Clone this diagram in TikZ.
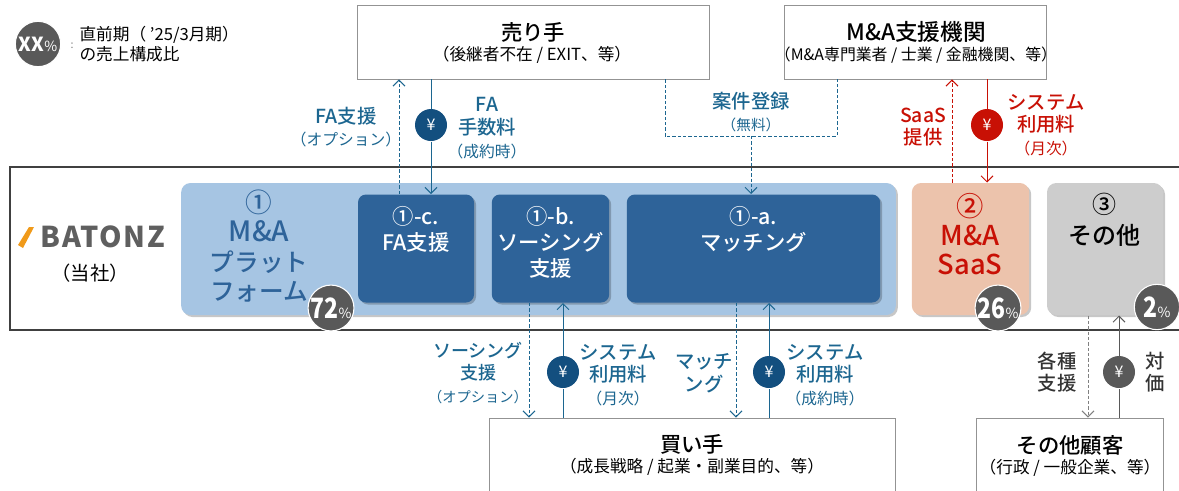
\documentclass[tikz,border=0pt]{standalone}
\usepackage{fontspec}
\setmainfont{Noto Sans CJK JP}
\newfontfamily\medfont{Noto Sans CJK JP Medium}
\usetikzlibrary{positioning, shadows, arrows.meta}

\newcommand{\subtxt}[2][11.8]{{\fontsize{#1}{12}\selectfont\normalfont #2}}
\newcommand{\pct}[3][0.82]{{\fontsize{#3}{20}\selectfont\bfseries\addfontfeature{FakeStretch=#1}#2}{\fontsize{10.5}{12}\selectfont\%}}

\begin{document}
\begin{tikzpicture}[x=0.75pt, y=-0.75pt, align=center, >={Straight Barb[length=4.5pt, width=9pt]}, line width=0.75pt,
    softshadow/.style={drop shadow={shadow xshift=1.5pt, shadow yshift=-1.5pt, fill=black, opacity=0.22}},
    partybox/.style={draw=gray!85, fill=white, line width=0.7pt, minimum height=55.5pt},
    panel/.style={rounded corners=7pt, softshadow},
    bluebox/.style={panel, fill=boxblue, minimum height=81pt, rounded corners=6pt},
    boxtext/.style={anchor=north, inner sep=0pt, font=\fontsize{16}{19.5}\selectfont\medfont, text=white},
    yen/.style={circle, minimum size=24pt, inner sep=0pt, text=white, font=\fontsize{12}{14}\selectfont},
    share/.style={circle, draw=white, line width=0.8pt, fill=sharegray, minimum size=34pt, inner sep=0pt, text=white},
    tag/.style={inner sep=0pt, font=\fontsize{14.5}{17}\selectfont\medfont},
    title/.style={inner sep=0pt, font=\fontsize{16}{18}\selectfont\medfont},
    sub/.style={inner sep=0pt, font=\fontsize{12.5}{14}\selectfont},
    dashline/.style={dash pattern=on 2.5pt off 1.5pt}]
    % Define colors
    \definecolor{boxblue}{HTML}{2E6399}
    \definecolor{paleblue}{HTML}{A6C5E3}
    \definecolor{paleorange}{HTML}{ECC3AC}
    \definecolor{palegray}{HTML}{CDCDCD}
    \definecolor{sharegray}{HTML}{595959}
    \definecolor{tagblue}{HTML}{1C6690}
    \definecolor{yenblue}{HTML}{134F7F}
    \definecolor{tagred}{HTML}{C81005}
    \definecolor{logogray}{HTML}{5F5F5F}
    \definecolor{logoorange}{HTML}{F09A1A}

    \path[use as bounding box, clip] (0,0) rectangle (1179,490);

    % Nodes
    \draw[draw=black!75, line width=1.1pt] (10,167) rectangle (1195,330);

    \node[partybox, minimum width=264pt] (seller) at (533,42) {};
    \node[title] (sellertitle) at (533,32) {売り手};
    \node[sub] (sellersub) at (532,55) {（後継者不在 / EXIT、等）};
    \node[partybox, minimum width=196pt] (agency) at (915.5,42) {};
    \node[title, font=\fontsize{17}{18}\selectfont\medfont] (agencytitle) at (916,32) {M\&A支援機関};
    \node[sub, font=\fontsize{11.9}{14}\selectfont] (agencysub) at (916,55) {（M\&A専門業者 / 士業 / 金融機関、等）};
    \node[partybox, minimum width=304pt, minimum height=90pt] (buyer) at (692.5,478) {};
    \node[title] (buyertitle) at (692,444) {買い手};
    \node[sub] (buyersub) at (692,467) {（成長戦略 / 起業・副業目的、等）};
    \node[partybox, minimum width=140pt, minimum height=90pt] (others) at (1070,478) {};
    \node[title] (otherstitle) at (1070,445) {その他顧客};
    \node[sub] (otherssub) at (1070,468) {（行政 / 一般企業、等）};

    \node[panel, fill=paleblue, minimum width=536pt, minimum height=99pt] (platform) at (538.5,249) {};
    \node[inner sep=0pt, text=boxblue, font=\fontsize{18.5}{22}\selectfont\medfont] (platformtext) at (259,246) {{\fontsize{20}{22}\selectfont ①}\\{\fontsize{21}{22}\selectfont M\&A}\\プラット\\フォーム};
    \node[bluebox, minimum width=87pt] (fa) at (416,248.5) {};
    \node[bluebox, minimum width=88pt] (sourcing) at (550.5,248.5) {};
    \node[bluebox, minimum width=190pt] (matching) at (753.5,248.5) {};
    \node[boxtext, below=9pt of fa.north] (fatext) {①-c.\\FA支援};
    \node[boxtext, below=9pt of sourcing.north] (sourcingtext) {①-b.\\ソーシング\\支援};
    \node[boxtext, below=9pt of matching.north] (matchingtext) {①-a.\\マッチング};
    \node[panel, fill=paleorange, minimum width=88pt, minimum height=99pt] (saas) at (970.5,249) {};
    \node[panel, fill=palegray, minimum width=87pt, minimum height=99pt] (other) at (1105,249) {};
    \node[inner sep=0pt, text=tagred, font=\fontsize{20.5}{22}\selectfont\medfont] (saastext) at (970,234) {②\\M\&A\\SaaS};
    \node[inner sep=0pt, font=\fontsize{18}{23}\selectfont\medfont] (othertext) at (1104,220) {③\\その他};

    \node[share] (sharelegend) at (38,44) {\pct[1]{XX}{14.5}};
    \node[share] (shareplatform) at (331,308) {\pct{72}{21}};
    \node[share] (sharesaas) at (998,308) {\pct{26}{21}};
    \node[share] (shareother) at (1157,307) {\pct{2}{21}};
    \node[inner sep=0pt, text=gray, font=\fontsize{8}{8}\selectfont] (legendcolon) at (72,46) {:};
    \node[inner sep=0pt, align=left, anchor=west, font=\fontsize{12.5}{15.5}\selectfont] (legendtext) at (79,44) {直前期（ '25/3月期）\\ の売上構成比};

    % Logo
    \fill[logoorange] (18,245) -- (29,227) -- (34,227) -- (23,248) -- cycle;
    \node[inner sep=0pt, text=logogray, font=\fontsize{21.5}{22}\selectfont\bfseries\addfontfeature{LetterSpace=6}] (logo) at (103,237) {BATONZ};
    \node[inner sep=0pt, font=\fontsize{14.5}{15}\selectfont] (company) at (90,273) {（当社）};

    % Yen markers
    \foreach \name/\xpos/\ypos/\col in {yenfa/431/125/yenblue, yensaas/987/125/tagred, yensourcing/563/372/yenblue, yenmatching/769/372/yenblue, yenother/1119/372/sharegray} {
        \node[yen, fill=\col] (\name) at (\xpos,\ypos) {¥};
    }

    % Coordinates for the dashed lines
    \coordinate (dashfa) at (399,130);
    \coordinate (dashsaas) at (952,130);
    \coordinate (dashsourcing) at (529,372);
    \coordinate (dashmatching) at (736,372);
    \coordinate (dashother) at (1088,372);
    \coordinate (regleft) at (665,136);
    \coordinate (regright) at (837,136);
    \coordinate (regmid) at (751,136);

    % Edges
    \draw[->, dashline, tagblue] (fa.north -| dashfa) -- (seller.south -| dashfa);
    \draw[tagblue] (seller.south -| yenfa) -- (yenfa);
    \draw[->, tagblue] (yenfa) -- (fa.north -| yenfa);

    \draw[dashline, tagblue] (seller.south -| regleft) -- (regleft) -- (regright) -- (agency.south -| regright);
    \draw[->, dashline, tagblue] (regmid) -- (matching.north -| regmid);

    \draw[->, dashline, tagred] (saas.north -| dashsaas) -- (agency.south -| dashsaas);
    \draw[tagred] (agency.south -| yensaas) -- (yensaas);
    \draw[->, tagred] (yensaas) -- (saas.north -| yensaas);

    \foreach \blue/\name in {sourcing/dashsourcing, matching/dashmatching} {
        \draw[->, dashline, tagblue] (\blue.south -| \name) -- (buyer.north -| \name);
    }
    \foreach \blue/\name in {sourcing/yensourcing, matching/yenmatching} {
        \draw[tagblue] (buyer.north -| \name) -- (\name);
        \draw[->, tagblue] (\name) -- (\blue.south -| \name);
    }

    \draw[->, dashline, gray] (other.south -| dashother) -- (others.north -| dashother);
    \draw[sharegray] (others.north -| yenother) -- (yenother);
    \draw[->, sharegray] (yenother) -- (other.south -| yenother);

    % Labels
    \node[tag, text=tagblue] (tagfa) at (346,127) {FA支援\\\subtxt{（オプション）}};
    \node[tag, text=tagblue] (tagfee) at (487,128) {FA\\手数料\\\subtxt{（成約時）}};
    \node[tag, text=tagblue] (tagreg) at (751,112) {案件登録\\\subtxt[11]{（無料）}};
    \node[tag, text=tagred] (tagsaas) at (923,127) {SaaS\\提供};
    \node[tag, text=tagred] (tagfeered) at (1046,125) {システム\\利用料\\\subtxt{（月次）}};
    \node[tag, text=tagblue, font=\fontsize{13.5}{17}\selectfont\medfont] (tagsourcing) at (478,373) {ソーシング\\支援\\\subtxt[10.7]{（オプション）}};
    \node[tag, text=tagblue] (tagmonth) at (618,375) {システム\\利用料\\\subtxt{（月次）}};
    \node[tag, text=tagblue] (tagmatching) at (704,373) {マッチ\\ング};
    \node[tag, text=tagblue] (tagclose) at (825,375) {システム\\利用料\\\subtxt{（成約時）}};
    \node[tag, text=black!80] (tagsupport) at (1057,372) {各種\\支援};
    \node[tag, text=black!80] (tagprice) at (1155,372) {対\\価};
\end{tikzpicture}
\end{document}
